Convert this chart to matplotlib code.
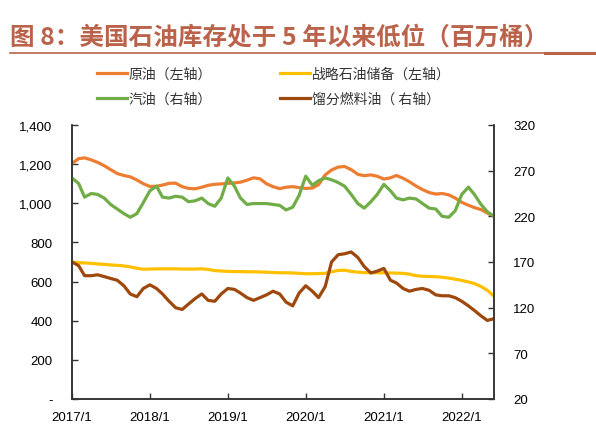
import matplotlib
matplotlib.use("Agg")
import matplotlib.pyplot as plt
from matplotlib.lines import Line2D
from matplotlib.ticker import FuncFormatter, FixedLocator
import pandas as pd

plt.rcParams['font.family'] = ['Liberation Sans', 'Noto Sans CJK SC', 'DejaVu Sans']

# ---- data (monthly, 2017/1 - 2022/6) ----
dates = pd.date_range('2017-01-01', periods=66, freq='MS')

crude = [1204, 1228, 1232, 1222, 1209, 1192, 1172, 1152, 1142, 1135, 1119, 1100,
         1086, 1087, 1093, 1102, 1103, 1085, 1076, 1074, 1082, 1092, 1097, 1099,
         1102, 1104, 1108, 1118, 1130, 1125, 1100, 1085, 1075, 1082, 1085, 1080,
         1076, 1078, 1095, 1145, 1170, 1185, 1188, 1172, 1148, 1141, 1145, 1138,
         1124, 1130, 1142, 1128, 1110, 1088, 1070, 1055, 1047, 1050, 1043, 1027,
         1005, 990, 978, 968, 950, 933]

spr = [700, 697, 695, 693, 690, 688, 685, 683, 680, 675, 668, 663,
       664, 665, 665, 665, 665, 664, 664, 664, 665, 662, 656, 654,
       652, 651, 651, 650, 650, 649, 648, 646, 645, 645, 644, 642,
       640, 640, 641, 642, 650, 657, 658, 652, 648, 646, 645, 645,
       645, 644, 643, 642, 638, 630, 627, 626, 625, 622, 618, 612,
       606, 598, 590, 575, 555, 525]

gasoline = [262, 256, 241, 245, 244, 240, 233, 228, 223, 219, 223, 235,
            248, 253, 241, 240, 242, 241, 236, 237, 240, 234, 231, 240,
            262, 253, 240, 233, 234, 234, 234, 233, 232, 227, 230, 243,
            264, 254, 259, 262, 260, 257, 253, 244, 234, 229, 236, 244,
            255, 248, 240, 238, 240, 239, 234, 229, 228, 220, 219, 226,
            244, 252, 244, 233, 225, 220]

distillate = [170, 166, 155, 155, 156, 154, 152, 150, 144, 135, 132, 141,
              145, 141, 135, 127, 120, 118, 124, 130, 135, 128, 127, 135,
              141, 140, 136, 131, 128, 131, 134, 138, 135, 126, 122, 136,
              144, 138, 131, 143, 170, 178, 179, 181, 175, 165, 158, 160,
              163, 150, 147, 141, 138, 140, 141, 139, 134, 133, 133, 131,
              127, 122, 117, 111, 106, 108]

labels = ['原油（左轴）', '汽油（右轴）', '战略石油储备（左轴）', '馏分燃料油（ 右轴）']
left_ticks = [0, 200, 400, 600, 800, 1000, 1200, 1400]
right_ticks = [20, 70, 120, 170, 220, 270, 320]
x_tick_dates = pd.to_datetime(['2017-01-01', '2018-01-01', '2019-01-01',
                               '2020-01-01', '2021-01-01', '2022-01-01'])
x_tick_labels = ['2017/1', '2018/1', '2019/1', '2020/1', '2021/1', '2022/1']

C_CRUDE = '#ED7D31'
C_SPR = '#FFC000'
C_GAS = '#70AD47'
C_DIST = '#9E480E'
TITLE_C = '#BA634A'
AX_C = '#333333'

fig = plt.figure(figsize=(5.96, 4.31), dpi=100)
ax = fig.add_axes([72/596, 1-400/431, (494-72)/596, (400-126)/431])
ax2 = ax.twinx()

lw = 2.3
l1, = ax.plot(dates, crude, color=C_CRUDE, lw=lw, solid_joinstyle='round')
l3, = ax.plot(dates, spr, color=C_SPR, lw=lw, solid_joinstyle='round')
l2, = ax2.plot(dates, gasoline, color=C_GAS, lw=lw, solid_joinstyle='round')
l4, = ax2.plot(dates, distillate, color=C_DIST, lw=lw, solid_joinstyle='round')

ax.set_xlim(dates[0], dates[-1])
ax.set_ylim(0, 1400)
ax2.set_ylim(20, 320)

ax.yaxis.set_major_locator(FixedLocator(left_ticks))
ax.yaxis.set_major_formatter(FuncFormatter(lambda v, p: '-' if v == 0 else f'{int(v):,}'))
ax2.yaxis.set_major_locator(FixedLocator(right_ticks))
ax.set_xticks(x_tick_dates)
ax.set_xticklabels(x_tick_labels)

for a in (ax, ax2):
    a.spines['top'].set_visible(False)
    for s in ('left', 'right', 'bottom'):
        a.spines[s].set_color(AX_C)
        a.spines[s].set_linewidth(1.1)
ax.tick_params(axis='y', direction='in', length=4, width=1, color=AX_C,
               labelsize=9.5, pad=14, labelcolor='#000000')
ax2.tick_params(axis='y', direction='in', length=4, width=1, color=AX_C,
                labelsize=9.5, pad=14, labelcolor='#000000')
ax.tick_params(axis='x', direction='in', length=4, width=1, color=AX_C,
               labelsize=9.5, pad=9, labelcolor='#000000')
ax2.tick_params(axis='x', length=0)

# title and rule
fig.text(10/596, 1-37/431, '图 8：美国石油库存处于 5 年以来低位（百万桶）',
         fontsize=17.7, fontweight='bold', color=TITLE_C, va='center', ha='left',
         family=['Noto Sans CJK SC', 'DejaVu Sans'])
fig.add_artist(Line2D([10/596, 545/596], [1-53.5/431, 1-53.5/431],
                      transform=fig.transFigure, color=TITLE_C, lw=1.2))
fig.add_artist(Line2D([545/596, 1.0], [1-54/431, 1-54/431],
                      transform=fig.transFigure, color=TITLE_C, lw=2.2))

leg = fig.legend([l1, l2, l3, l4], labels, ncol=2, loc='upper left',
                 bbox_to_anchor=(97/596, 1-68/431), frameon=False,
                 handlelength=2.15, handletextpad=0.15,
                 columnspacing=4.9, labelspacing=0.78, borderpad=0,
                 borderaxespad=0, prop={'family': ['Noto Sans CJK SC', 'DejaVu Sans'], 'size': 10})
for t in leg.get_texts():
    t.set_color('#333333')

fig.savefig('out.png', dpi=100)
